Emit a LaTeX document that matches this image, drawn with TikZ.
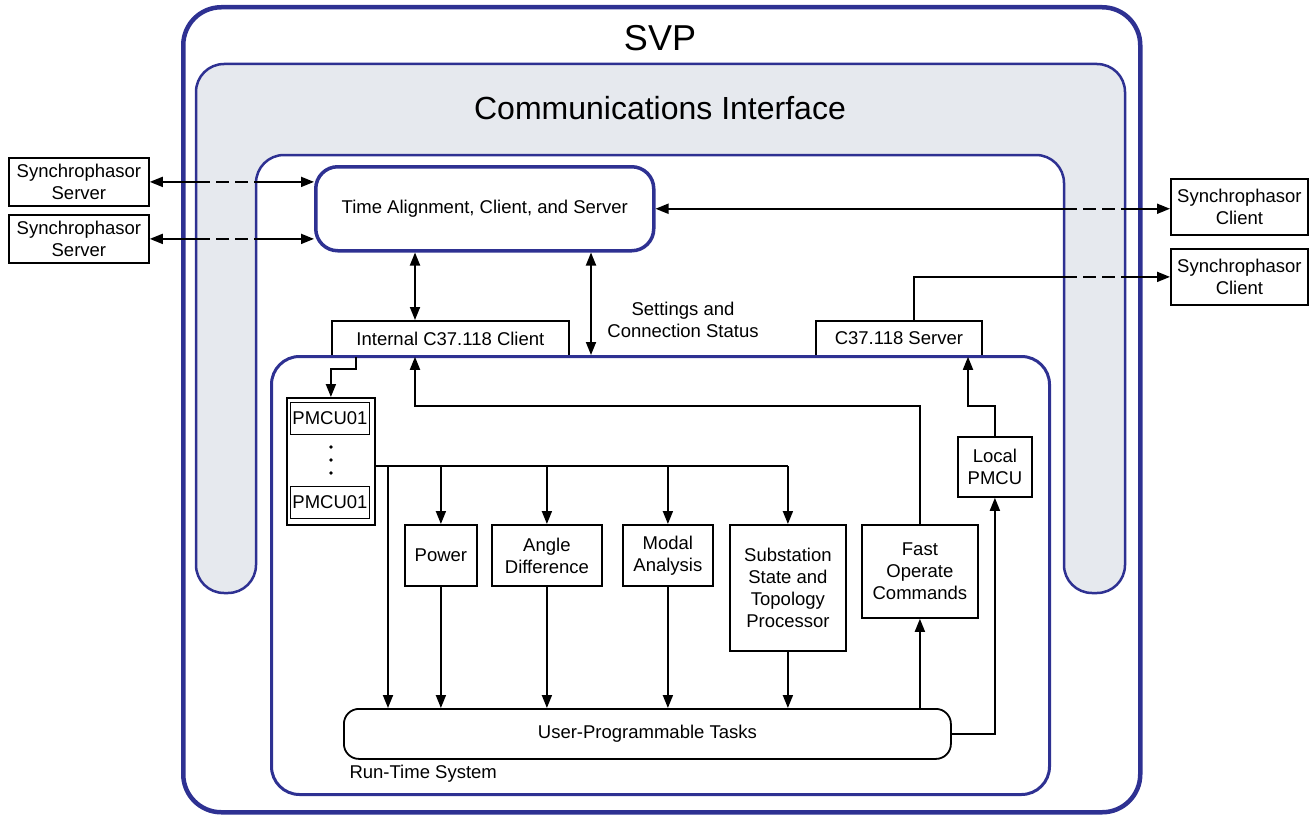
\documentclass[tikz,border=0pt]{standalone}
\usepackage{fontspec}
\setmainfont{Liberation Sans}
\usetikzlibrary{arrows.meta,calc}
\definecolor{svpblue}{HTML}{2E3192}
\definecolor{cigray}{HTML}{E6E9EE}

\begin{document}
\begin{tikzpicture}[x=1pt,y=-1pt,
  font=\fontsize{18.5}{22}\selectfont,
  box/.style={draw=black, line width=1.8pt, fill=white, align=center,
    inner sep=2pt, anchor=north west},
  bluebox/.style={draw=svpblue, anchor=north west, align=center, inner sep=0pt},
  wire/.style={draw=black, line width=1.8pt},
  tip/.style={-{Triangle[length=13pt,width=10pt]}},
  tipback/.style={{Triangle[length=13pt,width=10pt]}-},
  dbl/.style={{Triangle[length=13pt,width=10pt]}-{Triangle[length=13pt,width=10pt]}},
  link/.style={wire, dash pattern=on 13pt off 6pt}
]
\useasboundingbox (0,0) rectangle (1315,816);

% outer SVP frame and title
\node[bluebox, line width=4.5pt, rounded corners=38pt,
  minimum width=957pt, minimum height=805pt] (svp) at (181,5) {};
\node[font=\fontsize{36}{40}\selectfont] (svptitle) at (660,38) {SVP};

% communications interface (U-shaped band)
\draw[svpblue, line width=2.5pt, fill=cigray, rounded corners=28pt]
  (196,300) -- (196,64) -- (1125,64) -- (1125,593) -- (1064,593)
  -- (1064,155) -- (256,155) -- (256,593) -- (196,593) -- cycle;
\node[font=\fontsize{32}{36}\selectfont] (cititle) at (660,108) {Communications Interface};

% x positions of the interface band edges
\coordinate (ciLo) at (197,0);
\coordinate (ciLi) at (256,0);
\coordinate (ciRi) at (1064,0);
\coordinate (ciRo) at (1125,0);

% external servers and clients
\node[box, minimum width=140pt, minimum height=48pt] (srvA) at (8,157) {Synchrophasor\\Server};
\node[box, minimum width=140pt, minimum height=48pt] (srvB) at (8,214) {Synchrophasor\\Server};
\node[box, minimum width=137pt, minimum height=56pt] (cliA) at (1170,178) {Synchrophasor\\Client};
\node[box, minimum width=137pt, minimum height=56pt] (cliB) at (1170,248) {Synchrophasor\\Client};

% time alignment block
\node[bluebox, line width=3.5pt, rounded corners=22pt, fill=white,
  minimum width=338pt, minimum height=84pt] (ta) at (314,165)
  {Time Alignment, Client, and Server};

% ports of the run-time system
\node[box, minimum width=237pt, minimum height=35pt] (icl) at (331,320) {Internal C37.118 Client};
\node[box, minimum width=166pt, minimum height=35pt] (csrv) at (815,320) {C37.118 Server};

% run-time system
\node[bluebox, line width=3pt, rounded corners=28pt,
  minimum width=778pt, minimum height=438pt] (rts) at (270,355) {};
\node[anchor=west] (rtslabel) at (346,774) {Run-Time System};

\node (settings) at (683,320) [align=center] {Settings and\\Connection Status};

% PMCU stack
\node[box, minimum width=88pt, minimum height=127pt] (pmcu) at (286,397) {};
\node[box, line width=1pt, minimum width=79pt, minimum height=32pt, inner sep=0pt] (pmA) at (290,402) {PMCU01};
\node[box, line width=1pt, minimum width=79pt, minimum height=32pt, inner sep=0pt] (pmB) at (290,486) {PMCU01};
\foreach \dy in {447,460,473} \fill (331,\dy) circle[radius=1.8pt];

% application blocks
\node[box, minimum width=72pt, minimum height=61pt] (power) at (404,524) {Power};
\node[box, minimum width=110pt, minimum height=61pt] (angle) at (491,524) {Angle\\Difference};
\node[box, minimum width=90pt, minimum height=61pt] (modal) at (622,524) {Modal\\Analysis};
\node[box, minimum width=116pt, minimum height=126pt] (subst) at (729,524) {Substation\\State and\\Topology\\Processor};
\node[box, minimum width=116pt, minimum height=93pt] (foc) at (861,524) {Fast\\Operate\\Commands};
\node[box, minimum width=74pt, minimum height=60pt] (lpmcu) at (957,436) {Local\\PMCU};
\node[box, rounded corners=15pt, minimum width=607pt, minimum height=50pt] (upt) at (343,708) {User-Programmable Tasks};

% helper positions for connectors
\coordinate (xA) at (415,0);
\coordinate (xB) at (591,0);
\coordinate (xC) at (356,0);
\coordinate (xD) at (388,0);
\coordinate (xE) at (968,0);
\coordinate (xS) at (914,0);
\coordinate (busY) at (0,466);
\coordinate (retY) at (0,406);

% links to the outside world
\draw[wire, tipback] (srvA.east) -- (srvA.east -| ciLo);
\draw[link] (srvA.east -| ciLo) -- (srvA.east -| ciLi);
\draw[wire, tip] (srvA.east -| ciLi) -- (srvA.east -| ta.west);
\draw[wire, tipback] (srvB.east) -- (srvB.east -| ciLo);
\draw[link] (srvB.east -| ciLo) -- (srvB.east -| ciLi);
\draw[wire, tip] (srvB.east -| ciLi) -- (srvB.east -| ta.west);

\draw[wire, tipback] (ta.east) -- (ta.east -| ciRi);
\draw[link] (ta.east -| ciRi) -- (ta.east -| ciRo);
\draw[wire, tip] (ta.east -| ciRo) -- (ta.east -| cliA.west);

\draw[wire] (csrv.north -| xS) |- (cliB.west -| ciRi);
\draw[link] (cliB.west -| ciRi) -- (cliB.west -| ciRo);
\draw[wire, tip] (cliB.west -| ciRo) -- (cliB.west);

% time alignment to run-time system
\draw[wire, dbl] (ta.south -| xA) -- (icl.north -| xA);
\draw[wire, dbl] (ta.south -| xB) -- (rts.north -| xB);

% client to PMCU stack
\draw[wire, tip] (icl.south -| xC) -- ++(0,12) -| (pmcu.north);

% PMCU data bus
\draw[wire] (pmcu.east |- busY) -- (subst.north |- busY);
\draw[wire, tip] (busY -| power.north) -- (power.north);
\draw[wire, tip] (busY -| angle.north) -- (angle.north);
\draw[wire, tip] (busY -| modal.north) -- (modal.north);
\draw[wire, tip] (busY -| subst.north) -- (subst.north);
\draw[wire, tip] (busY -| xD) -- (upt.north -| xD);

% results into user tasks
\draw[wire, tip] (power.south) -- (upt.north -| power.south);
\draw[wire, tip] (angle.south) -- (upt.north -| angle.south);
\draw[wire, tip] (modal.south) -- (upt.north -| modal.south);
\draw[wire, tip] (subst.south) -- (upt.north -| subst.south);

% user tasks outputs
\draw[wire, tip] (upt.north -| foc.south) -- (foc.south);
\draw[wire, tip] (upt.east) -| (lpmcu.south);
\draw[wire, tip] (foc.north) |- (retY -| xA) -- (icl.south -| xA);
\draw[wire, tip] (lpmcu.north) |- (retY -| xE) -- (csrv.south -| xE);
\end{tikzpicture}
\end{document}
